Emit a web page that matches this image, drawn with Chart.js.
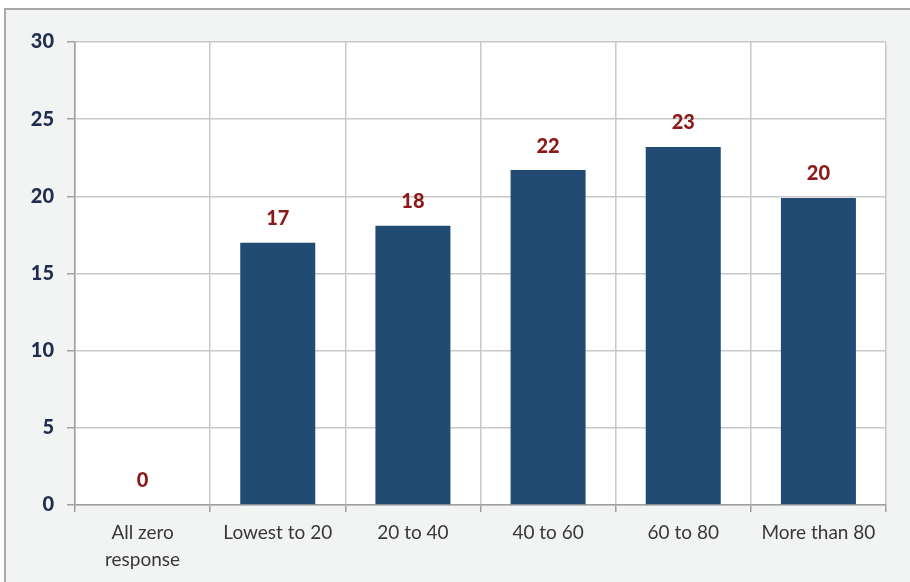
<!DOCTYPE html>
<html>
<head>
<meta charset="utf-8">
<script src="https://cdn.jsdelivr.net/npm/chart.js@4/dist/chart.umd.min.js"></script>
<style>
  html, body { margin: 0; padding: 0; background: #ffffff; width: 910px; height: 582px; overflow: hidden; }
  #frame { position: absolute; left: 4px; top: 8px; width: 920px; height: 600px; background: #F2F3F3; border-top: 2px solid #A8A8A8; border-left: 2px solid #A8A8A8; }
  #wrap { position: absolute; left: 0; top: 0; width: 910px; height: 582px; }
</style>
</head>
<body>
<div id="frame"></div>
<div id="wrap"><canvas id="c" width="910" height="582"></canvas></div>
<script>
const categories = [["All zero", "response"], "Lowest to 20", "20 to 40", "40 to 60", "60 to 80", "More than 80"];
const values = [0, 17, 18.1, 21.7, 23.2, 19.9];
const yTicks = [0, 5, 10, 15, 20, 25, 30];

const FONT = "Lato, 'Open Sans', sans-serif";

const plotBg = {
  id: 'plotBg',
  beforeDraw(chart) {
    const {ctx, chartArea: a} = chart;
    ctx.save();
    ctx.fillStyle = '#FFFFFF';
    ctx.fillRect(a.left, a.top, a.right - a.left, a.bottom - a.top);
    ctx.restore();
  }
};

const valueLabels = {
  id: 'valueLabels',
  afterDatasetsDraw(chart) {
    const {ctx} = chart;
    const meta = chart.getDatasetMeta(0);
    ctx.save();
    ctx.font = "900 20px " + FONT;
    ctx.fillStyle = '#8B1A1A';
    ctx.textAlign = 'center';
    ctx.textBaseline = 'middle';
    meta.data.forEach((bar, i) => {
      ctx.fillText(String(Math.round(values[i])), bar.x, bar.y - 24);
    });
    ctx.restore();
  }
};

new Chart(document.getElementById('c'), {
  type: 'bar',
  data: {
    labels: categories,
    datasets: [{
      data: values,
      backgroundColor: '#224B74',
      borderWidth: 0,
      barPercentage: 0.555,
      categoryPercentage: 1
    }]
  },
  options: {
    responsive: false,
    animation: false,
    devicePixelRatio: 1,
    layout: { padding: { top: 42, right: 24, left: 0, bottom: 0 } },
    plugins: { legend: { display: false }, tooltip: { enabled: false } },
    scales: {
      x: {
        grid: { color: '#C8C8C8', lineWidth: 1.5, offset: true, tickLength: 7, tickColor: '#A0A0A0' },
        border: { color: '#A0A0A0', width: 1.5 },
        ticks: { color: '#383838', font: { family: FONT, size: 19, lineHeight: 1.42 }, padding: 7, maxRotation: 0, autoSkip: false },
        afterFit(scale) { scale.height = 582 - 505; }
      },
      y: {
        min: 0, max: 30,
        afterBuildTicks(scale) { scale.ticks = yTicks.map(v => ({ value: v })); },
        grid: { color: '#C8C8C8', lineWidth: 1.5, tickLength: 8, tickColor: '#A0A0A0' },
        border: { color: '#A0A0A0', width: 1.5 },
        ticks: { color: '#1F2D4F', font: { family: FONT, size: 20, weight: '900' }, padding: 13 },
        afterFit(scale) { scale.width = 75; }
      }
    }
  },
  plugins: [plotBg, valueLabels]
});
</script>
</body>
</html>
